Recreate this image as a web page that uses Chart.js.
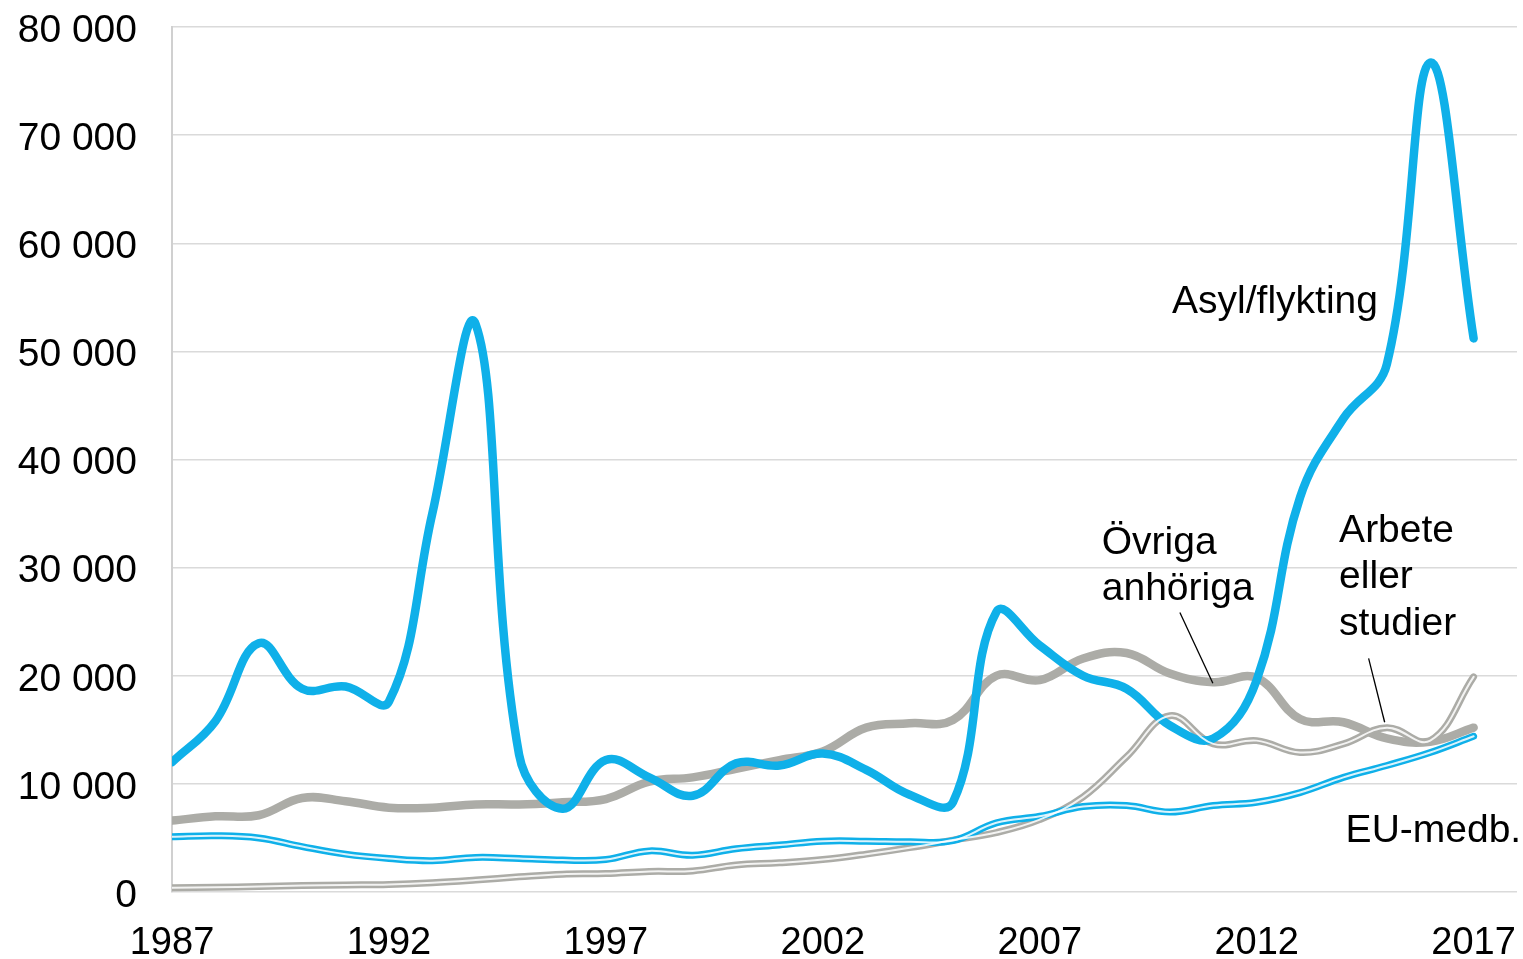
<!DOCTYPE html>
<html>
<head>
<meta charset="utf-8">
<title>Invandring per grund 1987-2017</title>
<script src="https://cdn.jsdelivr.net/npm/chart.js"></script>
<style>
  html, body { margin: 0; padding: 0; background: #fff; }
</style>
</head>
<body>
<canvas id="migChart" width="1523" height="959"></canvas>
<script>

//   <------------ Data ------------->

const years = [1987, 1988, 1989, 1990, 1991, 1992, 1993, 1994, 1995, 1996,
               1997, 1998, 1999, 2000, 2001, 2002, 2003, 2004, 2005, 2006,
               2007, 2008, 2009, 2010, 2011, 2012, 2013, 2014, 2015, 2016, 2017];

const asyl    = [12000, 15800, 23000, 18800, 19000, 17600, 35000, 52500, 12700, 7700,
                 12200, 10600, 8900, 11900, 11700, 12800, 11300, 9000, 8300, 25900,
                 22800, 20000, 18800, 15400, 14200, 19600, 36500, 43800, 48800, 76700, 51200];

const ovriga  = [6600, 7000, 7100, 8700, 8400, 7800, 7800, 8100, 8100, 8300,
                 8600, 10200, 10600, 11400, 12200, 13000, 15200, 15600, 15900, 20000,
                 19600, 21600, 22100, 20200, 19400, 19800, 16000, 15700, 14200, 13900, 15200];

const arbete  = [400, 450, 500, 600, 650, 700, 850, 1100, 1400, 1650,
                 1700, 1900, 1950, 2500, 2700, 3000, 3500, 4100, 4800, 5500,
                 6700, 8800, 12500, 16300, 13700, 14000, 12900, 13700, 15200, 14000, 19900];

const euMedb  = [5100, 5200, 5000, 4200, 3500, 3100, 2900, 3200, 3100, 2950,
                 3000, 3800, 3400, 4000, 4350, 4700, 4700, 4650, 4750, 6400,
                 7000, 7900, 8000, 7400, 8000, 8300, 9200, 10600, 11700, 12900, 14400];

const xTicks = [1987, 1992, 1997, 2002, 2007, 2012, 2017];
const yTicks = [0, 10000, 20000, 30000, 40000, 50000, 60000, 70000, 80000];

const BLUE = '#0fb0e9';
const GREY = '#acaca7';
const FONT = '"Liberation Sans", Arial, sans-serif';

// labels written in the plot, in data coordinates
const seriesLabels = [
  { lines: ['Asyl/flykting'], x: 2010.05, y: 54500 },
  { lines: ['Övriga', 'anhöriga'], x: 2008.43, y: 32300 },
  { lines: ['Arbete', 'eller', 'studier'], x: 2013.9, y: 33400 },
  { lines: ['EU-medb.'], x: 2014.05, y: 5600 }
];
const leaders = [
  { from: [2010.23, 25850], to: [2010.99, 19300] },
  { from: [2014.58, 21600], to: [2014.95, 15700] }
];

function pts(values) {
  return years.map((yr, i) => ({ x: yr, y: values[i] }));
}

function spaced(v) {
  return String(v).replace(/\B(?=(\d{3})+(?!\d))/g, ' ');
}


//   <------------ Label plugin ------------->

const labelPlugin = {
  id: 'seriesLabels',
  afterDatasetsDraw(chart) {
    const ctx = chart.ctx;
    const xs = chart.scales.x;
    const ys = chart.scales.y;
    ctx.save();
    ctx.strokeStyle = '#000';
    ctx.lineWidth = 1.3;
    leaders.forEach(l => {
      ctx.beginPath();
      ctx.moveTo(xs.getPixelForValue(l.from[0]), ys.getPixelForValue(l.from[1]));
      ctx.lineTo(xs.getPixelForValue(l.to[0]), ys.getPixelForValue(l.to[1]));
      ctx.stroke();
    });
    ctx.font = '39px ' + FONT;
    ctx.fillStyle = '#000';
    ctx.textAlign = 'left';
    ctx.textBaseline = 'middle';
    seriesLabels.forEach(l => {
      l.lines.forEach((t, i) => {
        ctx.fillText(t, xs.getPixelForValue(l.x), ys.getPixelForValue(l.y) + i * 46.5);
      });
    });
    ctx.restore();
  }
};


//   <------------ Chart ------------->

const lineBase = {
  pointRadius: 0,
  pointHoverRadius: 0,
  tension: 0.4,
  borderCapStyle: 'round',
  borderJoinStyle: 'round',
  fill: false
};

const config = {
  type: 'line',
  data: {
    datasets: [
      // white cores of the double lines, drawn on top
      { ...lineBase, label: 'EU-medb. inner', data: pts(euMedb), borderColor: 'rgba(255,255,255,0.85)', borderWidth: 2, order: 0 },
      { ...lineBase, label: 'Arbete inner', data: pts(arbete), borderColor: 'rgba(255,255,255,0.85)', borderWidth: 2, order: 0 },
      { ...lineBase, label: 'Asyl/flykting', data: pts(asyl), borderColor: BLUE, borderWidth: 8.5, order: 1 },
      { ...lineBase, label: 'Övriga anhöriga', data: pts(ovriga), borderColor: GREY, borderWidth: 8.5, order: 2 },
      { ...lineBase, label: 'EU-medb.', data: pts(euMedb), borderColor: BLUE, borderWidth: 7, order: 1 },
      { ...lineBase, label: 'Arbete eller studier', data: pts(arbete), borderColor: GREY, borderWidth: 7, order: 1 }
    ]
  },
  options: {
    responsive: false,
    animation: false,
    layout: { padding: { top: 27, right: 6, bottom: 0, left: 0 } },
    plugins: {
      legend: { display: false },
      tooltip: { enabled: false }
    },
    scales: {
      x: {
        type: 'linear',
        min: 1987,
        max: 2018,
        afterBuildTicks: axis => { axis.ticks = xTicks.map(v => ({ value: v })); },
        afterFit: axis => { axis.height = 67; },
        // transparent grid so the tick length can push the labels down
        grid: { display: true, color: 'rgba(0,0,0,0)', tickColor: 'rgba(0,0,0,0)', drawTicks: true, tickLength: 29 },
        border: { display: false },
        ticks: {
          color: '#000',
          font: { family: FONT, size: 38 },
          padding: 0,
          maxRotation: 0,
          autoSkip: false,
          callback: v => String(v)
        }
      },
      y: {
        min: 0,
        max: 80000,
        afterBuildTicks: axis => { axis.ticks = yTicks.map(v => ({ value: v })); },
        afterFit: axis => { axis.width = 172; },
        grid: { color: '#dadada', lineWidth: 1.5, drawTicks: true, tickLength: 35, tickColor: 'rgba(0,0,0,0)' },
        border: { display: true, color: '#d0d0d0', width: 2 },
        ticks: {
          color: '#000',
          font: { family: FONT, size: 39 },
          padding: 0,
          labelOffset: 4,
          callback: v => spaced(v)
        }
      }
    }
  },
  plugins: [labelPlugin]
};

const ctx = document.getElementById('migChart').getContext('2d');
const migChart = new Chart(ctx, config);

</script>
</body>
</html>
